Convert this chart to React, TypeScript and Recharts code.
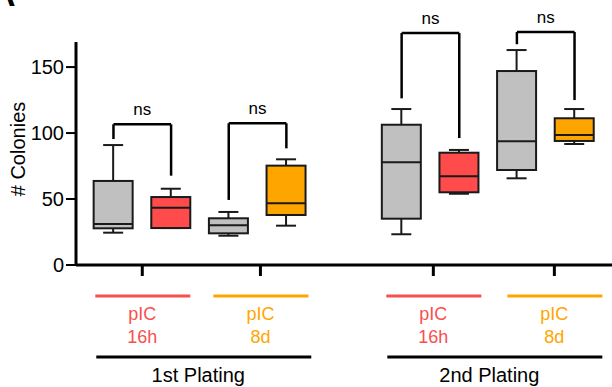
import { ComposedChart, Bar, XAxis, YAxis, ReferenceLine } from 'recharts';

// box slots along the x axis (slot 4 is the gap between platings)
const slots = [0, 1, 2, 3, 5, 6, 7, 8];
const mins = [24.5, 28, 22.2, 29.8, 23.3, 54, 65.7, 91.7];
const q1s = [27.8, 28, 24, 37.9, 35.1, 55.1, 72, 94];
const medians = [31, 43.4, 30.1, 46.8, 77.8, 67.2, 93.7, 98.5];
const q3s = [63.7, 51.5, 35.4, 75.3, 106.3, 85.1, 147, 111.2];
const maxs = [90.9, 57.8, 40.2, 80.1, 118.2, 87.2, 162.9, 118.2];
const boxColors = ['#c0c0c0', '#ff4b4b', '#c0c0c0', '#ffa500', '#c0c0c0', '#ff4b4b', '#c0c0c0', '#ffa500'];

// treatment ticks under the axis
const tickPos = [0.5, 2.55, 5.55, 7.65];
const tickTop = ['pIC', 'pIC', 'pIC', 'pIC'];
const tickBottom = ['16h', '8d', '16h', '8d'];
const tickColors = ['#f8504f', '#ffa500', '#f8504f', '#ffa500'];
const groupLabels = ['1st Plating', '2nd Plating'];

const yTicks = [0, 50, 100, 150];

// ns brackets: left slot, right slot, left leg bottom, bar height, right leg bottom
const bracketLeft = [0, 2, 5, 7];
const bracketRight = [1, 3, 6, 8];
const bracketLeftLow = [95.5, 49.3, 126.3, 167.3];
const bracketTop = [106.6, 107.4, 175.8, 176.6];
const bracketRightLow = [67.7, 88.4, 96.2, 125];

const data = slots.map((pos, i) => ({
  pos,
  range: [mins[i], maxs[i]],
  min: mins[i],
  q1: q1s[i],
  med: medians[i],
  q3: q3s[i],
  max: maxs[i],
  color: boxColors[i],
}));

const FONT = '"Liberation Sans", Arial, Helvetica, sans-serif';

function BoxShape(props: any) {
  const { x, y, width, height, payload } = props;
  const top = Math.min(y, y + height);
  const bottom = Math.max(y, y + height);
  const { min, max, q1, med, q3, color } = payload;
  const py = (v: number) => (max === min ? top : top + ((bottom - top) * (max - v)) / (max - min));
  const cx = x + width / 2;
  const cap = 10;
  const stroke = '#1a1a1a';
  return (
    <g>
      <line x1={cx} x2={cx} y1={py(max)} y2={py(q3)} stroke={stroke} strokeWidth={2} />
      <line x1={cx} x2={cx} y1={py(q1)} y2={py(min)} stroke={stroke} strokeWidth={2} />
      <line x1={cx - cap} x2={cx + cap} y1={py(max)} y2={py(max)} stroke={stroke} strokeWidth={2} />
      <line x1={cx - cap} x2={cx + cap} y1={py(min)} y2={py(min)} stroke={stroke} strokeWidth={2} />
      <rect x={x} y={py(q3)} width={width} height={py(q1) - py(q3)} fill={color} stroke={stroke} strokeWidth={2} />
      <line x1={x} x2={x + width} y1={py(med)} y2={py(med)} stroke={stroke} strokeWidth={2} />
    </g>
  );
}

function PlatingTick(props: any) {
  const { x, y, payload } = props;
  const i = tickPos.indexOf(payload.value);
  if (i < 0) return null;
  const axisY = y - 11;
  const color = tickColors[i];
  const group = i % 2 === 0 ? groupLabels[i / 2] : null;
  return (
    <g fontFamily={FONT}>
      <line x1={x - 47} x2={x + 48} y1={axisY + 31} y2={axisY + 31} stroke={color} strokeWidth={3} />
      <text x={x} y={axisY + 55} textAnchor="middle" fill={color} fontSize={18}>
        {tickTop[i]}
      </text>
      <text x={x} y={axisY + 78} textAnchor="middle" fill={color} fontSize={18}>
        {tickBottom[i]}
      </text>
      {group && (
        <g>
          <line x1={x - 46} x2={x + 169} y1={axisY + 92} y2={axisY + 92} stroke="#000" strokeWidth={3} />
          <text x={x + 56} y={axisY + 117} textAnchor="middle" fill="#000" fontSize={20}>
            {group}
          </text>
        </g>
      )}
    </g>
  );
}

function YLabel() {
  return (
    <text transform="translate(25,149) rotate(-90)" textAnchor="middle" fontSize={20} fill="#000" fontFamily={FONT}>
      # Colonies
    </text>
  );
}

export default function App() {
  return (
    <div style={{ position: 'absolute', left: 0, top: 0, width: 612, height: 387, background: '#fff', overflow: 'hidden' }}>
      <svg style={{ position: 'absolute', left: 0, top: 0 }} width={40} height={20}>
        <text x={-9} y={6} fontSize={34} fontWeight="bold" fontFamily={FONT}>A</text>
      </svg>
      <ComposedChart
        width={612}
        height={387}
        data={data}
        margin={{ top: 42, right: 0, left: 0, bottom: 0 }}
        style={{ fontFamily: FONT }}
      >
        <XAxis
          dataKey="pos"
          type="number"
          domain={[-0.65, 8.65]}
          ticks={tickPos}
          interval={0}
          height={122}
          tickSize={11}
          tickMargin={0}
          axisLine={{ stroke: '#000', strokeWidth: 3 }}
          tickLine={{ stroke: '#000', strokeWidth: 3 }}
          tick={<PlatingTick />}
        />
        <YAxis
          type="number"
          domain={[0, 169]}
          allowDataOverflow
          ticks={yTicks}
          width={76}
          tickSize={10}
          tickMargin={2}
          axisLine={{ stroke: '#000', strokeWidth: 3 }}
          tickLine={{ stroke: '#000', strokeWidth: 2 }}
          tick={{ fill: '#000', fontSize: 20, fontFamily: FONT }}
          label={<YLabel />}
        />
        <Bar dataKey="range" barSize={39} shape={<BoxShape />} isAnimationActive={false} />
        {bracketLeft.map((l, i) => (
          <ReferenceLine
            key={`bl-${i}`}
            ifOverflow="visible"
            segment={[{ x: l, y: bracketLeftLow[i] }, { x: l, y: bracketTop[i] }]}
            stroke="#000"
            strokeWidth={2.5}
          />
        ))}
        {bracketLeft.map((l, i) => (
          <ReferenceLine
            key={`bt-${i}`}
            ifOverflow="visible"
            segment={[{ x: l, y: bracketTop[i] }, { x: bracketRight[i], y: bracketTop[i] }]}
            stroke="#000"
            strokeWidth={2.5}
            label={{ value: 'ns', position: 'top', offset: 9, fill: '#000', fontSize: 17, fontFamily: FONT }}
          />
        ))}
        {bracketRight.map((r, i) => (
          <ReferenceLine
            key={`br-${i}`}
            ifOverflow="visible"
            segment={[{ x: r, y: bracketTop[i] }, { x: r, y: bracketRightLow[i] }]}
            stroke="#000"
            strokeWidth={2.5}
          />
        ))}
      </ComposedChart>
    </div>
  );
}
